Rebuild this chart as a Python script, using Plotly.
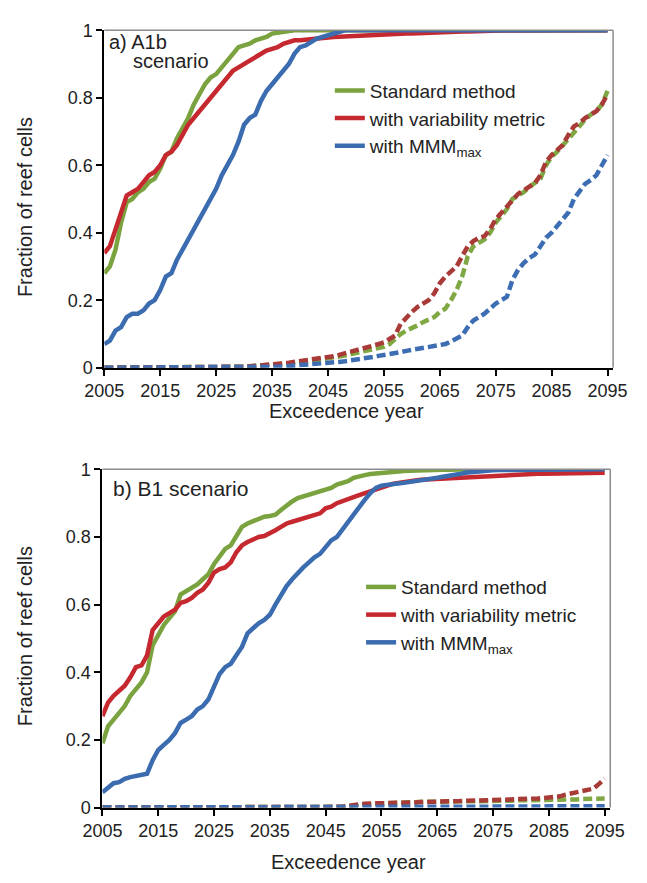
import plotly.graph_objects as go

years = list(range(2005, 2096))
x_ticks = [2005, 2015, 2025, 2035, 2045, 2055, 2065, 2075, 2085, 2095]
series_names = ["Standard method", "with variability metric", "with MMM<sub>max</sub>"]

# ---------- Panel a) A1b scenario ----------
a_std = [0.28, 0.30, 0.35, 0.43, 0.49, 0.50, 0.52, 0.53, 0.55, 0.56,
         0.59, 0.63, 0.64, 0.68, 0.71, 0.74, 0.78, 0.81, 0.84, 0.86,
         0.87, 0.89, 0.91, 0.93, 0.95, 0.955, 0.96, 0.97, 0.975, 0.98,
         0.99, 0.993, 0.996, 0.998, 1.0, 1.0, 1.0, 1.0, 1.0, 1.0,
         1.0, 1.0, 1.0, 1.0, 1.0, 1.0, 1.0, 1.0, 1.0, 1.0,
         1.0, 1.0, 1.0, 1.0, 1.0, 1.0, 1.0, 1.0, 1.0, 1.0,
         1.0, 1.0, 1.0, 1.0, 1.0, 1.0, 1.0, 1.0, 1.0, 1.0,
         1.0, 1.0, 1.0, 1.0, 1.0, 1.0, 1.0, 1.0, 1.0, 1.0,
         1.0, 1.0, 1.0, 1.0, 1.0, 1.0, 1.0, 1.0, 1.0, 1.0, 1.0]
a_var = [0.34, 0.36, 0.41, 0.46, 0.51, 0.52, 0.53, 0.55, 0.57, 0.58,
         0.60, 0.63, 0.64, 0.66, 0.69, 0.72, 0.74, 0.76, 0.78, 0.80,
         0.82, 0.84, 0.86, 0.88, 0.89, 0.90, 0.91, 0.92, 0.93, 0.94,
         0.945, 0.95, 0.96, 0.965, 0.97, 0.97, 0.972, 0.975, 0.975, 0.978,
         0.98, 0.98, 0.981, 0.982, 0.983, 0.983, 0.984, 0.984, 0.985, 0.985,
         0.986, 0.987, 0.988, 0.989, 0.99, 0.99, 0.991, 0.991, 0.992, 0.993,
         0.993, 0.994, 0.995, 0.995, 0.996, 0.996, 0.997, 0.997, 0.998, 0.998,
         0.998, 0.999, 0.999, 0.999, 0.999, 1.0, 1.0, 1.0, 1.0, 1.0,
         1.0, 1.0, 1.0, 1.0, 1.0, 1.0, 1.0, 1.0, 1.0, 1.0, 1.0]
a_mmm = [0.07, 0.08, 0.11, 0.12, 0.15, 0.16, 0.16, 0.17, 0.19, 0.20,
         0.23, 0.27, 0.28, 0.32, 0.35, 0.38, 0.41, 0.44, 0.47, 0.50,
         0.53, 0.57, 0.60, 0.63, 0.67, 0.72, 0.74, 0.75, 0.79, 0.82,
         0.84, 0.86, 0.88, 0.90, 0.93, 0.95, 0.955, 0.965, 0.975, 0.98,
         0.985, 0.99, 0.995, 1.0, 1.0, 1.0, 1.0, 1.0, 1.0, 1.0,
         1.0, 1.0, 1.0, 1.0, 1.0, 1.0, 1.0, 1.0, 1.0, 1.0,
         1.0, 1.0, 1.0, 1.0, 1.0, 1.0, 1.0, 1.0, 1.0, 1.0,
         1.0, 1.0, 1.0, 1.0, 1.0, 1.0, 1.0, 1.0, 1.0, 1.0,
         1.0, 1.0, 1.0, 1.0, 1.0, 1.0, 1.0, 1.0, 1.0, 1.0, 1.0]
a_std_d = [0.0, 0.0, 0.0, 0.0, 0.0, 0.0, 0.0, 0.0, 0.0, 0.0,
           0.0, 0.0, 0.0, 0.0, 0.0, 0.0, 0.0, 0.0, 0.0, 0.0,
           0.0, 0.0, 0.0, 0.0, 0.0, 0.003, 0.004, 0.005, 0.006, 0.008,
           0.009, 0.01, 0.011, 0.013, 0.015, 0.016, 0.018, 0.02, 0.022, 0.025,
           0.027, 0.03, 0.033, 0.036, 0.04, 0.043, 0.046, 0.05, 0.053, 0.058,
           0.062, 0.07, 0.085, 0.1, 0.11, 0.117, 0.125, 0.135, 0.142, 0.15,
           0.165, 0.175, 0.2, 0.23, 0.27, 0.33, 0.36, 0.37, 0.38, 0.4,
           0.43, 0.45, 0.47, 0.5, 0.51, 0.52, 0.535, 0.547, 0.56, 0.6,
           0.625, 0.64, 0.66, 0.68, 0.7, 0.72, 0.735, 0.75, 0.76, 0.78, 0.82]
a_var_d = [0.0, 0.0, 0.0, 0.0, 0.0, 0.0, 0.0, 0.0, 0.0, 0.0,
           0.0, 0.0, 0.0, 0.0, 0.0, 0.0, 0.0, 0.0, 0.0, 0.0,
           0.0, 0.0, 0.0, 0.0, 0.0, 0.003, 0.004, 0.005, 0.007, 0.009,
           0.01, 0.011, 0.013, 0.015, 0.017, 0.019, 0.021, 0.023, 0.025, 0.027,
           0.03, 0.034, 0.038, 0.042, 0.046, 0.05, 0.055, 0.06, 0.065, 0.07,
           0.075, 0.085, 0.095, 0.13, 0.15, 0.165, 0.18, 0.19, 0.2, 0.22,
           0.25, 0.27, 0.285, 0.3, 0.33, 0.36, 0.375, 0.385, 0.39, 0.41,
           0.44, 0.46, 0.48, 0.5, 0.515, 0.525, 0.535, 0.547, 0.57, 0.61,
           0.63, 0.645, 0.66, 0.69, 0.715, 0.725, 0.74, 0.75, 0.76, 0.78, 0.81]
a_mmm_d = [0.0, 0.0, 0.0, 0.0, 0.0, 0.0, 0.0, 0.0, 0.0, 0.0,
           0.0, 0.0, 0.0, 0.0, 0.0, 0.0, 0.0, 0.0, 0.0, 0.0,
           0.0, 0.0, 0.0, 0.0, 0.0, 0.0, 0.0, 0.0, 0.0, 0.0,
           0.002, 0.003, 0.004, 0.005, 0.006, 0.007, 0.008, 0.009, 0.01, 0.012,
           0.013, 0.015, 0.017, 0.019, 0.021, 0.023, 0.026, 0.029, 0.032, 0.035,
           0.037, 0.04, 0.044, 0.046, 0.05, 0.053, 0.056, 0.058, 0.06, 0.063,
           0.066, 0.07, 0.078, 0.085, 0.095, 0.12, 0.14, 0.15, 0.16, 0.175,
           0.19, 0.2, 0.21, 0.26, 0.29, 0.31, 0.325, 0.335, 0.36, 0.385,
           0.4, 0.42, 0.435, 0.46, 0.5, 0.525, 0.545, 0.556, 0.57, 0.6, 0.63]

# ---------- Panel b) B1 scenario ----------
b_std = [0.19, 0.24, 0.26, 0.28, 0.30, 0.33, 0.35, 0.37, 0.40, 0.48,
         0.51, 0.54, 0.56, 0.58, 0.63, 0.64, 0.65, 0.66, 0.675, 0.69,
         0.72, 0.745, 0.765, 0.775, 0.80, 0.83, 0.84, 0.846, 0.855, 0.86,
         0.862, 0.866, 0.88, 0.894, 0.905, 0.915, 0.92, 0.925, 0.93, 0.933,
         0.94, 0.945, 0.955, 0.96, 0.965, 0.975, 0.98, 0.983, 0.986, 0.988,
         0.99, 0.992, 0.993, 0.994, 0.995, 0.996, 0.997, 0.997, 0.998, 0.998,
         0.999, 0.999, 0.999, 1.0, 1.0, 1.0, 1.0, 1.0, 1.0, 1.0,
         1.0, 1.0, 1.0, 1.0, 1.0, 1.0, 1.0, 1.0, 1.0, 1.0,
         1.0, 1.0, 1.0, 1.0, 1.0, 1.0, 1.0, 1.0, 1.0, 1.0, 1.0]
b_var = [0.27, 0.31, 0.33, 0.345, 0.36, 0.385, 0.415, 0.42, 0.45, 0.525,
         0.545, 0.565, 0.575, 0.585, 0.605, 0.61, 0.62, 0.635, 0.645, 0.665,
         0.695, 0.705, 0.71, 0.725, 0.755, 0.775, 0.785, 0.793, 0.8, 0.803,
         0.81, 0.82, 0.83, 0.84, 0.845, 0.85, 0.855, 0.86, 0.865, 0.87,
         0.885, 0.89, 0.9, 0.905, 0.912, 0.918, 0.924, 0.93, 0.935, 0.942,
         0.948, 0.953, 0.957, 0.96, 0.963, 0.965, 0.967, 0.969, 0.97, 0.971,
         0.972, 0.973, 0.974, 0.975, 0.976, 0.977, 0.978, 0.978, 0.979, 0.98,
         0.981, 0.982, 0.983, 0.984, 0.985, 0.985, 0.986, 0.986, 0.987, 0.987,
         0.987, 0.988, 0.988, 0.988, 0.989, 0.989, 0.989, 0.99, 0.99, 0.99, 0.99]
b_mmm = [0.045, 0.06, 0.072, 0.075, 0.085, 0.09, 0.093, 0.095, 0.1, 0.14,
         0.17, 0.185, 0.2, 0.22, 0.25, 0.26, 0.27, 0.29, 0.3, 0.32,
         0.36, 0.395, 0.415, 0.425, 0.45, 0.475, 0.515, 0.53, 0.545, 0.555,
         0.57, 0.6, 0.63, 0.655, 0.675, 0.695, 0.71, 0.725, 0.74, 0.75,
         0.77, 0.79, 0.8, 0.822, 0.845, 0.87, 0.89, 0.91, 0.93, 0.945,
         0.952, 0.955, 0.957, 0.958, 0.96, 0.962, 0.965, 0.967, 0.97, 0.972,
         0.975, 0.978, 0.98, 0.983, 0.986, 0.99, 0.992, 0.994, 0.995, 0.996,
         0.997, 0.998, 0.998, 0.999, 0.999, 1.0, 1.0, 1.0, 1.0, 1.0,
         1.0, 1.0, 1.0, 1.0, 1.0, 1.0, 1.0, 1.0, 1.0, 1.0, 1.0]
b_std_d = [0.0, 0.0, 0.0, 0.0, 0.0, 0.0, 0.0, 0.0, 0.0, 0.0,
           0.0, 0.0, 0.0, 0.0, 0.0, 0.0, 0.0, 0.0, 0.0, 0.0,
           0.0, 0.0, 0.0, 0.0, 0.0, 0.0, 0.0, 0.0, 0.0, 0.0,
           0.0, 0.0, 0.0, 0.0, 0.0, 0.0, 0.0, 0.0, 0.0, 0.0,
           0.0, 0.0, 0.0, 0.002, 0.004, 0.006, 0.008, 0.01, 0.01, 0.011,
           0.012, 0.013, 0.014, 0.015, 0.015, 0.016, 0.016, 0.016, 0.017, 0.017,
           0.017, 0.018, 0.018, 0.018, 0.018, 0.019, 0.019, 0.019, 0.019, 0.02,
           0.02, 0.02, 0.02, 0.02, 0.021, 0.021, 0.021, 0.021, 0.022, 0.022,
           0.022, 0.023, 0.023, 0.023, 0.024, 0.024, 0.025, 0.025, 0.026, 0.026, 0.027]
b_var_d = [0.0, 0.0, 0.0, 0.0, 0.0, 0.0, 0.0, 0.0, 0.0, 0.0,
           0.0, 0.0, 0.0, 0.0, 0.0, 0.0, 0.0, 0.0, 0.0, 0.0,
           0.0, 0.0, 0.0, 0.0, 0.0, 0.0, 0.0, 0.0, 0.0, 0.0,
           0.0, 0.0, 0.0, 0.0, 0.0, 0.0, 0.0, 0.0, 0.0, 0.0,
           0.0, 0.0, 0.0, 0.002, 0.005, 0.008, 0.01, 0.011, 0.012, 0.012,
           0.013, 0.013, 0.014, 0.014, 0.015, 0.015, 0.015, 0.016, 0.016, 0.017,
           0.017, 0.018, 0.018, 0.019, 0.019, 0.02, 0.02, 0.021, 0.021, 0.022,
           0.022, 0.023, 0.023, 0.024, 0.024, 0.025, 0.025, 0.026, 0.027, 0.028,
           0.029, 0.03, 0.033, 0.038, 0.041, 0.045, 0.05, 0.052, 0.056, 0.07, 0.085]
b_mmm_d = [0.0, 0.0, 0.0, 0.0, 0.0, 0.0, 0.0, 0.0, 0.0, 0.0,
           0.0, 0.0, 0.0, 0.0, 0.0, 0.0, 0.0, 0.0, 0.0, 0.0,
           0.0, 0.0, 0.0, 0.0, 0.0, 0.0, 0.0, 0.0, 0.0, 0.0,
           0.0, 0.0, 0.0, 0.0, 0.0, 0.0, 0.0, 0.0, 0.0, 0.0,
           0.0, 0.0, 0.0, 0.0, 0.0, 0.0, 0.0, 0.0, 0.0, 0.0,
           0.001, 0.001, 0.001, 0.001, 0.001, 0.001, 0.001, 0.001, 0.001, 0.001,
           0.002, 0.002, 0.002, 0.002, 0.002, 0.002, 0.002, 0.002, 0.002, 0.002,
           0.003, 0.003, 0.003, 0.003, 0.003, 0.003, 0.003, 0.003, 0.003, 0.003,
           0.004, 0.004, 0.004, 0.004, 0.004, 0.004, 0.004, 0.004, 0.004, 0.004, 0.004]

# ---------- styling ----------
FONT = "Liberation Sans, Arial, sans-serif"
solid_colors = ["#7AA23E", "#C62830", "#3B6CB0"]
dash_colors = ["#7FA743", "#A83A37", "#3D6DB2"]
W, H = 647, 883

# pixel geometry of plot areas
pa = dict(x0=89, x1=626, y0=20.7, y1=366)
pb = dict(x0=87, x1=623, y0=470, y1=816)


def xd(p):
    return [p["x0"] / W, p["x1"] / W]


def yd(p):
    return [1 - p["y1"] / H, 1 - p["y0"] / H]


fig = go.Figure()

panels = [
    ("x", "y", "legend", [a_std, a_var, a_mmm], [a_std_d, a_var_d, a_mmm_d]),
    ("x2", "y2", "legend2", [b_std, b_var, b_mmm], [b_std_d, b_var_d, b_mmm_d]),
]

for xa, ya, lg, solids, dashes in panels:
    for i, vals in enumerate(dashes):
        fig.add_trace(go.Scatter(
            x=years, y=vals, mode="lines", xaxis=xa, yaxis=ya,
            line=dict(color=dash_colors[i], width=4.5, dash="9px,4px"),
            showlegend=False, hoverinfo="skip"))
    for i, vals in enumerate(solids):
        fig.add_trace(go.Scatter(
            x=years, y=vals, mode="lines", xaxis=xa, yaxis=ya,
            name=series_names[i], legend=lg,
            line=dict(color=solid_colors[i], width=4.5)))

xaxis_common = dict(
    range=[2005, 2096], tickmode="array", tickvals=x_ticks,
    ticktext=[str(v) for v in x_ticks], showgrid=False, zeroline=False,
    showline=True, linecolor="#000000", linewidth=2,
    ticks="outside", ticklen=6, tickwidth=2, tickcolor="#000000",
    tickfont=dict(family=FONT, size=18, color="#222222"))
yaxis_common = dict(
    range=[0, 1], tickmode="array", tickvals=[0, 0.2, 0.4, 0.6, 0.8, 1],
    ticktext=["0", "0.2", "0.4", "0.6", "0.8", "1"],
    showgrid=False, zeroline=False,
    showline=True, linecolor="#000000", linewidth=2,
    ticks="outside", ticklen=6, tickwidth=2, tickcolor="#000000",
    tickfont=dict(family=FONT, size=18, color="#222222"))

legend_common = dict(xanchor="left", yanchor="top", bgcolor="rgba(0,0,0,0)",
                     tracegroupgap=0, itemwidth=30,
                     font=dict(family=FONT, size=19, color="#222222"))

fig.update_layout(
    width=W, height=H,
    margin=dict(l=0, r=0, t=0, b=0),
    paper_bgcolor="white", plot_bgcolor="white",
    font=dict(family=FONT, size=18, color="#222222"),
    xaxis=dict(domain=xd(pa), anchor="y", **xaxis_common),
    yaxis=dict(domain=yd(pa), anchor="x", **yaxis_common),
    xaxis2=dict(domain=xd(pb), anchor="y2", **xaxis_common),
    yaxis2=dict(domain=yd(pb), anchor="x2", **yaxis_common),
    legend=dict(x=327 / W, y=1 - 63 / H, **legend_common),
    legend2=dict(x=360 / W, y=1 - 571 / H, **legend_common),
    showlegend=True,
)

# gray top/right frame
for xa, ya in [("x", "y"), ("x2", "y2")]:
    fig.add_shape(type="line", xref=f"{xa} domain", yref=f"{ya} domain",
                  x0=0, x1=1, y0=1, y1=1, line=dict(color="#8C8C8C", width=1.5))
    fig.add_shape(type="line", xref=f"{xa} domain", yref=f"{ya} domain",
                  x0=1, x1=1, y0=0, y1=1, line=dict(color="#8C8C8C", width=1.5))

# panel labels and axis titles
annots = [
    dict(text="a) A1b", x=92 / W, y=1 - 33 / H, xanchor="left", yanchor="middle", size=20),
    dict(text="scenario", x=117 / W, y=1 - 52 / H, xanchor="left", yanchor="middle", size=20),
    dict(text="b) B1 scenario", x=96 / W, y=1 - 490 / H, xanchor="left", yanchor="middle", size=21),
    dict(text="Exceedence year", x=345 / W, y=1 - 410 / H, xanchor="center", yanchor="middle", size=20),
    dict(text="Exceedence year", x=347 / W, y=1 - 872 / H, xanchor="center", yanchor="middle", size=20),
]
for a in annots:
    fig.add_annotation(text=a["text"], x=a["x"], y=a["y"], xref="paper", yref="paper",
                       xanchor=a["xanchor"], yanchor=a["yanchor"], showarrow=False,
                       font=dict(family=FONT, size=a["size"], color="#222222"))
for cy in [202, 641]:
    fig.add_annotation(text="Fraction of reef cells", x=6 / W, y=1 - cy / H,
                       xref="paper", yref="paper", xanchor="center", yanchor="middle",
                       textangle=-90, showarrow=False,
                       font=dict(family=FONT, size=20, color="#222222"))

fig.write_html("out.html")
